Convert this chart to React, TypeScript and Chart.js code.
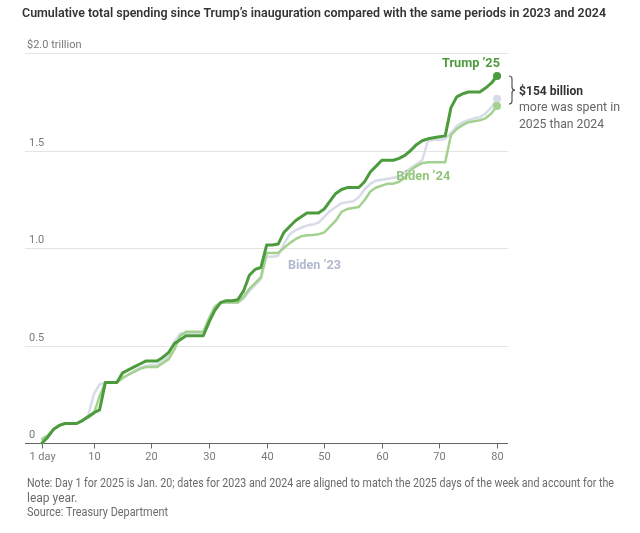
import React, { useEffect, useRef } from "react";
import { Chart, registerables } from "chart.js";
Chart.register(...registerables);

const days = [
  1, 2, 3, 4, 5, 6, 7, 8, 9, 10, 11, 12, 13, 14, 15, 16, 17, 18, 19, 20,
  21, 22, 23, 24, 25, 26, 27, 28, 29, 30, 31, 32, 33, 34, 35, 36, 37, 38, 39, 40,
  41, 42, 43, 44, 45, 46, 47, 48, 49, 50, 51, 52, 53, 54, 55, 56, 57, 58, 59, 60,
  61, 62, 63, 64, 65, 66, 67, 68, 69, 70, 71, 72, 73, 74, 75, 76, 77, 78, 79, 80,
];

const trump25 = [
  0.0, 0.03, 0.07, 0.09, 0.1, 0.1, 0.1, 0.115, 0.135, 0.155,
  0.17, 0.31, 0.31, 0.31, 0.36, 0.375, 0.39, 0.405, 0.42, 0.42,
  0.42, 0.44, 0.465, 0.51, 0.53, 0.55, 0.55, 0.55, 0.55, 0.62,
  0.68, 0.72, 0.73, 0.73, 0.735, 0.78, 0.86, 0.89, 0.9, 1.015,
  1.015, 1.02, 1.08, 1.11, 1.14, 1.16, 1.18, 1.18, 1.18, 1.2,
  1.24, 1.28, 1.3, 1.31, 1.31, 1.31, 1.34, 1.39, 1.42, 1.45,
  1.45, 1.45, 1.46, 1.475, 1.5, 1.53, 1.55, 1.56, 1.565, 1.57,
  1.575, 1.72, 1.775, 1.79, 1.8, 1.8, 1.8, 1.82, 1.845, 1.882,
];

const biden24 = [
  0.02, 0.04, 0.07, 0.09, 0.1, 0.1, 0.1, 0.115, 0.13, 0.15,
  0.24, 0.31, 0.31, 0.31, 0.335, 0.35, 0.365, 0.38, 0.39, 0.39,
  0.39, 0.41, 0.43, 0.48, 0.55, 0.57, 0.57, 0.57, 0.57, 0.64,
  0.7, 0.72, 0.72, 0.72, 0.72, 0.75, 0.79, 0.82, 0.85, 0.975,
  0.975, 0.975, 1.0, 1.025, 1.045, 1.06, 1.065, 1.067, 1.07, 1.08,
  1.11, 1.14, 1.185, 1.2, 1.205, 1.21, 1.245, 1.29, 1.31, 1.32,
  1.33, 1.33, 1.34, 1.36, 1.4, 1.42, 1.435, 1.44, 1.44, 1.44,
  1.44, 1.58, 1.61, 1.63, 1.645, 1.65, 1.655, 1.665, 1.69, 1.728,
];

const biden23 = [
  0.0, 0.03, 0.07, 0.09, 0.1, 0.1, 0.1, 0.11, 0.14, 0.25,
  0.3, 0.31, 0.31, 0.31, 0.33, 0.35, 0.37, 0.385, 0.395, 0.4,
  0.4, 0.42, 0.45, 0.52, 0.56, 0.565, 0.565, 0.565, 0.565, 0.63,
  0.69, 0.715, 0.72, 0.72, 0.72, 0.74, 0.78, 0.81, 0.84, 0.955,
  0.955, 0.96, 1.02, 1.07, 1.09, 1.105, 1.115, 1.12, 1.13, 1.16,
  1.19, 1.21, 1.23, 1.235, 1.24, 1.26, 1.3, 1.33, 1.345, 1.35,
  1.355, 1.36, 1.365, 1.39, 1.41, 1.43, 1.45, 1.55, 1.555, 1.555,
  1.56, 1.59, 1.625, 1.645, 1.655, 1.665, 1.67, 1.69, 1.72, 1.765,
];

const xTicks = [1, 10, 20, 30, 40, 50, 60, 70, 80];
const xTickLabels = ["1 day", "10", "20", "30", "40", "50", "60", "70", "80"];
const yTicks = [0, 0.5, 1.0, 1.5, 2.0];
const yTickLabels = ["0", "0.5", "1.0", "1.5", "$2.0 trillion"];

const seriesNames = ["Trump \u201925", "Biden \u201924", "Biden \u201923"];
const seriesColors = ["#4c9b3c", "#a3d18f", "#d8dce8"];
const labelColors = ["#4c9b3c", "#93c57d", "#b3b9cc"];

const title =
  "Cumulative total spending since Trump\u2019s inauguration compared with the same periods in 2023 and 2024";
const noteLines = [
  "Note: Day 1 for 2025 is Jan. 20; dates for 2023 and 2024 are aligned to match the 2025 days of the week and account for the",
  "leap year.",
  "Source: Treasury Department",
];
const annotationLines = ["$154 billion", "more was spent in", "2025 than 2024"];

const FONT = "Roboto, 'Noto Sans', sans-serif";

function txt(
  ctx: CanvasRenderingContext2D,
  s: string,
  x: number,
  y: number,
  font: string,
  color: string,
  align: CanvasTextAlign = "left",
  maxW?: number
) {
  ctx.font = font;
  ctx.fillStyle = color;
  ctx.textAlign = align;
  ctx.textBaseline = "middle";
  if (maxW) ctx.fillText(s, x, y, maxW);
  else ctx.fillText(s, x, y);
}

const framePlugin = {
  id: "frame",
  beforeDatasetsDraw(chart: any) {
    const { ctx, chartArea, scales } = chart;
    const xs = scales.x;
    const ys = scales.y;
    ctx.save();
    // gridlines
    yTicks.forEach((v, i) => {
      const y = Math.round(ys.getPixelForValue(v)) + 0.5;
      if (v !== 0) {
        ctx.strokeStyle = "#e4e4e4";
        ctx.lineWidth = 1;
        ctx.beginPath();
        ctx.moveTo(chartArea.left, y);
        ctx.lineTo(chartArea.right, y);
        ctx.stroke();
      }
      const lx = i === yTicks.length - 1 ? chartArea.left + 2 : chartArea.left + 4;
      txt(ctx, yTickLabels[i], lx, y - 8.5, `11px ${FONT}`, "#7a7a7a", "left");
    });
    // x axis
    const y0 = Math.round(ys.getPixelForValue(0)) + 0.5;
    ctx.strokeStyle = "#666";
    ctx.lineWidth = 1;
    ctx.beginPath();
    ctx.moveTo(chartArea.left, y0);
    ctx.lineTo(chartArea.right, y0);
    ctx.stroke();
    xTicks.forEach((d, i) => {
      const x = Math.round(xs.getPixelForValue(d)) + 0.5;
      ctx.beginPath();
      ctx.moveTo(x, y0);
      ctx.lineTo(x, y0 + 5);
      ctx.stroke();
      txt(ctx, xTickLabels[i], x, y0 + 14, `11px ${FONT}`, "#7a7a7a", "center");
    });
    ctx.restore();
  },
  afterDatasetsDraw(chart: any) {
    const { ctx, chartArea, scales } = chart;
    const xs = scales.x;
    const ys = scales.y;
    ctx.save();
    // series labels
    txt(ctx, seriesNames[0], xs.getPixelForValue(80.5), ys.getPixelForValue(1.944), `bold 13px ${FONT}`, labelColors[0], "right", 58);
    txt(ctx, seriesNames[1], xs.getPixelForValue(67.2), ys.getPixelForValue(1.364), `bold 13px ${FONT}`, labelColors[1], "center", 54);
    txt(ctx, seriesNames[2], xs.getPixelForValue(48.3), ys.getPixelForValue(0.908), `bold 13px ${FONT}`, labelColors[2], "center", 53);

    // brace between Trump '25 and Biden '24 end values
    const last = days.length - 1;
    const yTop = ys.getPixelForValue(trump25[last]);
    const yBot = ys.getPixelForValue(biden24[last]) - 2;
    const yMid = (yTop + yBot) / 2;
    const bx = chartArea.right + 1;
    ctx.strokeStyle = "#555";
    ctx.lineWidth = 1.2;
    ctx.beginPath();
    ctx.moveTo(bx, yTop);
    ctx.quadraticCurveTo(bx + 3, yTop, bx + 3, yTop + 3);
    ctx.lineTo(bx + 3, yMid - 3);
    ctx.quadraticCurveTo(bx + 3, yMid, bx + 6, yMid);
    ctx.quadraticCurveTo(bx + 3, yMid, bx + 3, yMid + 3);
    ctx.lineTo(bx + 3, yBot - 3);
    ctx.quadraticCurveTo(bx + 3, yBot, bx, yBot);
    ctx.stroke();

    const ax = chartArea.right + 11;
    txt(ctx, annotationLines[0], ax, yMid + 2, `bold 13px ${FONT}`, "#333", "left", 64);
    txt(ctx, annotationLines[1], ax, yMid + 18, `13px ${FONT}`, "#666", "left", 101);
    txt(ctx, annotationLines[2], ax, yMid + 35, `13px ${FONT}`, "#666", "left", 85);

    // title and notes
    txt(ctx, title, 22, 14, `600 13px ${FONT}`, "#333", "left", 584);
    txt(ctx, noteLines[0], 27, 484, `12px ${FONT}`, "#6b6b6b", "left", 587);
    txt(ctx, noteLines[1], 27, 498.5, `12px ${FONT}`, "#6b6b6b", "left");
    txt(ctx, noteLines[2], 27, 513, `12px ${FONT}`, "#6b6b6b", "left", 141);
    ctx.restore();
  },
};

export default function App() {
  const ref = useRef<HTMLCanvasElement | null>(null);
  useEffect(() => {
    if (!ref.current) return;
    const mk = (vals: number[]) => days.map((d, i) => ({ x: d, y: vals[i] }));
    const last = days.length - 1;
    const radius = (c: any) => (c.dataIndex === last ? 4 : 0);
    const chart = new Chart(ref.current, {
      type: "line",
      data: {
        datasets: [
          {
            label: seriesNames[0],
            data: mk(trump25),
            borderColor: seriesColors[0],
            backgroundColor: seriesColors[0],
            borderWidth: 3,
            pointRadius: radius,
            pointBorderWidth: 0,
            tension: 0,
            borderJoinStyle: "round",
            borderCapStyle: "round",
          },
          {
            label: seriesNames[1],
            data: mk(biden24),
            borderColor: seriesColors[1],
            backgroundColor: seriesColors[1],
            borderWidth: 2.5,
            pointRadius: radius,
            pointBorderWidth: 0,
            tension: 0,
            borderJoinStyle: "round",
            borderCapStyle: "round",
          },
          {
            label: seriesNames[2],
            data: mk(biden23),
            borderColor: seriesColors[2],
            backgroundColor: seriesColors[2],
            borderWidth: 2.5,
            pointRadius: radius,
            pointBorderWidth: 0,
            tension: 0,
            borderJoinStyle: "round",
            borderCapStyle: "round",
          },
        ],
      },
      options: {
        animation: false,
        responsive: false,
        clip: false as any,
        layout: { padding: { left: 25, right: 132, top: 53, bottom: 90 } },
        plugins: { legend: { display: false }, tooltip: { enabled: false }, title: { display: false } },
        scales: {
          x: { type: "linear", min: -1.95, max: 81.9, display: false },
          y: { type: "linear", min: 0, max: 2.0, display: false },
        },
      },
      plugins: [framePlugin],
    });
    return () => chart.destroy();
  }, []);
  return (
    <div style={{ position: "absolute", left: 0, top: 0, width: 640, height: 533, background: "#fff" }}>
      <canvas ref={ref} width={640} height={533} style={{ width: 640, height: 533 }} />
    </div>
  );
}
